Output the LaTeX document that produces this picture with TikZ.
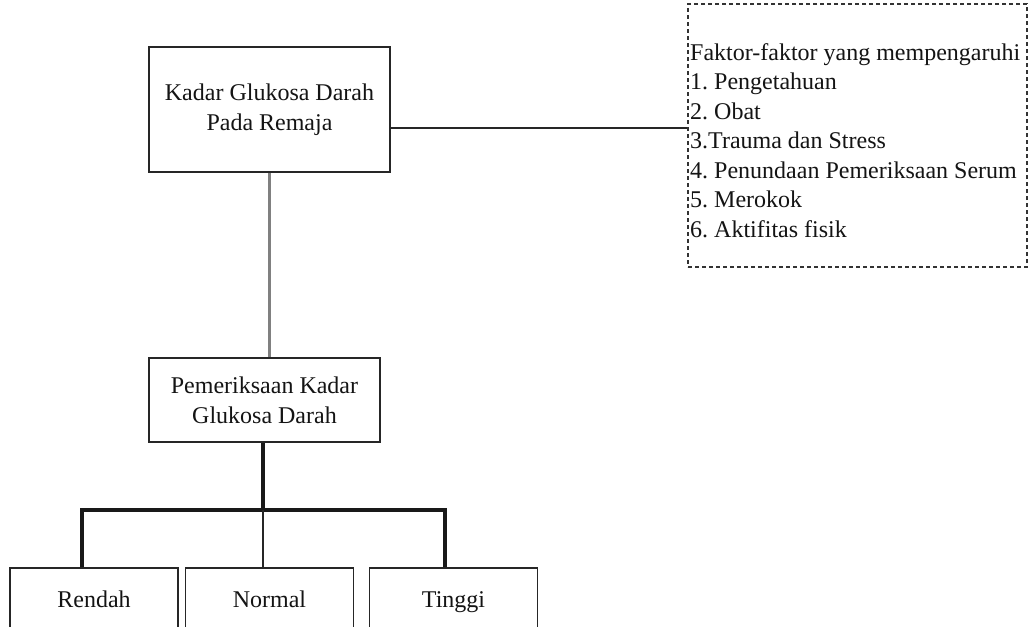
\documentclass[tikz,border=0pt]{standalone}
\usepackage{fontspec}
\setmainfont{Liberation Serif}
\begin{document}
\begin{tikzpicture}[x=1pt,y=-1pt,
  txt/.style={font=\fontsize{24}{30}\selectfont\frenchspacing, text=black!92},
  box/.style={txt, draw=black!85, line width=1.5pt, rectangle, inner sep=0pt, align=center},
  leaf/.style={box, anchor=north, minimum width=168pt, text height=40pt, text depth=40pt, inner ysep=0pt},
  dashbox/.style={draw=black!80, line width=1.3pt, dash pattern=on 4pt off 3pt, rectangle, inner sep=0pt},
  listtxt/.style={txt, font=\fontsize{24}{29.5}\selectfont\frenchspacing, inner sep=0pt, align=left, anchor=north west},
  link/.style={draw=black!85, line width=1.5pt},
  greylink/.style={draw=black!50, line width=2.2pt},
  boldlink/.style={draw=black!90, line width=3.8pt},
  thinlink/.style={draw=black!85, line width=1.6pt}]
\useasboundingbox (0,0) rectangle (1029,627);
\fill[white] (0,0) rectangle (1029,627);
\clip (0,0) rectangle (1029,627);
\node[box, minimum width=241pt, minimum height=125pt] (kadar) at (269.5,109.5) {Kadar Glukosa Darah\\Pada Remaja};
\node[box, minimum width=231pt, minimum height=84pt] (periksa) at (264.5,400) {Pemeriksaan Kadar\\Glukosa Darah};
\node[dashbox, minimum width=339pt, minimum height=263pt] (faktor) at (857.5,135.5) {};
\node[listtxt] (faktorlist) at (690,43)
  {Faktor-faktor yang mempengaruhi\\1. Pengetahuan\\2. Obat\\3.Trauma dan Stress\\4. Penundaan Pemeriksaan Serum\\5. Merokok\\6. Aktifitas fisik};
\node[leaf] (rendah) at (94,567) {Rendah};
\node[leaf] (normal) at (269.5,567) {Normal};
\node[leaf] (tinggi) at (453.5,567) {Tinggi};
\coordinate (bus) at (263,510);
\draw[link] ([yshift=-18.5pt]kadar.east) coordinate (k1) -- (k1 -| faktor.west);
\draw[greylink] (kadar.south) -- (periksa.north -| kadar.south);
\draw[boldlink] (periksa.south -| bus) -- (bus);
\draw[boldlink] ([xshift=-12pt]rendah.north) |- (bus) -| ([xshift=-8.5pt]tinggi.north);
\draw[thinlink] (bus) -- (normal.north -| bus);
\end{tikzpicture}
\end{document}
